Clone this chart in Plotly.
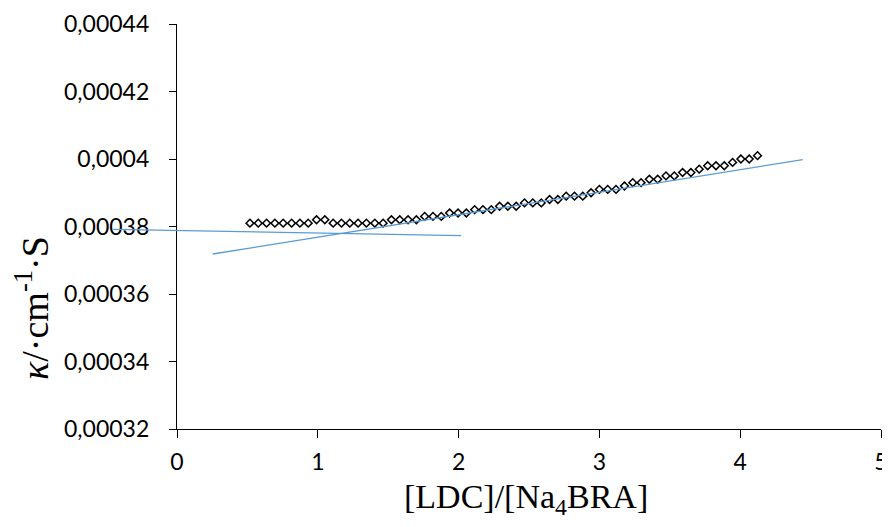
import plotly.graph_objects as go

# measured points: [LDC]/[Na4BRA] ratio vs conductivity
ratio = [0.518, 0.577, 0.636, 0.695, 0.754, 0.814, 0.873, 0.932, 0.991, 1.050,
         1.109, 1.168, 1.227, 1.286, 1.345, 1.405, 1.464, 1.523, 1.582, 1.641,
         1.700, 1.759, 1.818, 1.877, 1.936, 1.996, 2.055, 2.114, 2.173, 2.232,
         2.291, 2.350, 2.409, 2.468, 2.527, 2.587, 2.646, 2.705, 2.764, 2.823,
         2.882, 2.941, 3.000, 3.059, 3.118, 3.178, 3.237, 3.296, 3.355, 3.414,
         3.473, 3.532, 3.591, 3.650, 3.709, 3.769, 3.828, 3.887, 3.946, 4.005,
         4.064, 4.123]
kappa = [0.000381, 0.000381, 0.000381, 0.000381, 0.000381, 0.000381, 0.000381, 0.000381,
         0.000382, 0.000382, 0.000381, 0.000381, 0.000381, 0.000381, 0.000381, 0.000381,
         0.000381, 0.000382, 0.000382, 0.000382, 0.000382, 0.000383, 0.000383, 0.000383,
         0.000384, 0.000384, 0.000384, 0.000385, 0.000385, 0.000385, 0.000386, 0.000386,
         0.000386, 0.000387, 0.000387, 0.000387, 0.000388, 0.000388, 0.000389, 0.000389,
         0.000389, 0.000390, 0.000391, 0.000391, 0.000391, 0.000392, 0.000393, 0.000393,
         0.000394, 0.000394, 0.000395, 0.000395, 0.000396, 0.000396, 0.000397, 0.000398,
         0.000398, 0.000398, 0.000399, 0.000400, 0.000400, 0.000401]

# trend lines (end points)
trend1_x = [-0.452, 2.017]
trend1_y = [0.00037917, 0.00037727]
trend2_x = [0.254, 4.444]
trend2_y = [0.00037185, 0.0003998]

y_ticks = [0.00032, 0.00034, 0.00036, 0.00038, 0.0004, 0.00042, 0.00044]
y_labels = ["0,00032", "0,00034", "0,00036", "0,00038", "0,0004", "0,00042", "0,00044"]
x_ticks = [0, 1, 2, 3, 4, 5]
y_range = [0.00032, 0.00044]

line_blue = "#5B9BD5"
tick_font = dict(family="Lato", size=23, color="black")

fig = go.Figure()

fig.add_trace(go.Scatter(x=ratio, y=kappa, mode="markers",
                         marker=dict(symbol="diamond-open", size=6, color="black",
                                     line=dict(width=1.5, color="black")),
                         showlegend=False))
# trend lines live on a wider hidden subplot so they can run past the y axis
fig.add_trace(go.Scatter(x=trend1_x, y=trend1_y, mode="lines", xaxis="x2", yaxis="y2",
                         line=dict(color=line_blue, width=1.3), showlegend=False))
fig.add_trace(go.Scatter(x=trend2_x, y=trend2_y, mode="lines", xaxis="x2", yaxis="y2",
                         line=dict(color=line_blue, width=1.3), showlegend=False))

# the page body offsets the figure by 8px; keep the page inside the window
W, H = 882, 511
left_px = 92
plot_l, plot_r, plot_t, plot_b = 169, 873, 16, 421
plot_w = plot_r - left_px
plot_h = plot_b - plot_t
dom0 = (plot_l - left_px) / plot_w
px_per_unit = (plot_r - plot_l) / 5.0

fig.update_layout(
    width=W, height=H,
    margin=dict(l=left_px, r=W - plot_r, t=plot_t, b=H - plot_b),
    paper_bgcolor="white", plot_bgcolor="rgba(0,0,0,0)",
    xaxis=dict(domain=[dom0, 1], range=[0, 5], tickvals=x_ticks, anchor="y",
               showgrid=False, zeroline=False, showline=True, automargin=False,
               linecolor="black", linewidth=1.3, ticks="outside", ticklen=8,
               tickcolor="black", tickwidth=1.3, tickfont=tick_font,
               ticklabelstandoff=4),
    yaxis=dict(range=y_range, tickvals=y_ticks, ticktext=y_labels,
               showgrid=False, zeroline=False, showline=True, anchor="x", automargin=False,
               linecolor="black", linewidth=1.3, ticks="outside", ticklen=7,
               tickcolor="black", tickwidth=1.3, tickfont=tick_font,
               ticklabelstandoff=15),
    xaxis2=dict(domain=[0, 1], range=[-(plot_l - left_px) / px_per_unit, 5],
                anchor="y2", visible=False, automargin=False),
    yaxis2=dict(domain=[0, 1], range=y_range, anchor="x2", visible=False, automargin=False),
)

fig.add_annotation(text="[LDC]/[Na<sub>4</sub>BRA]", xref="x", yref="paper",
                   x=2.48, y=-70 / plot_h, xanchor="center", yanchor="middle",
                   showarrow=False, font=dict(family="Liberation Serif", size=34, color="black"))
fig.add_annotation(text="<i>κ</i>/·cm<sup>-1</sup>·S", xref="paper", yref="paper",
                   x=(24 - left_px) / plot_w, y=(plot_b - 300) / plot_h, textangle=-90,
                   xanchor="center", yanchor="middle",
                   showarrow=False, font=dict(family="Liberation Serif", size=38, color="black"))

fig.write_html("out.html")
